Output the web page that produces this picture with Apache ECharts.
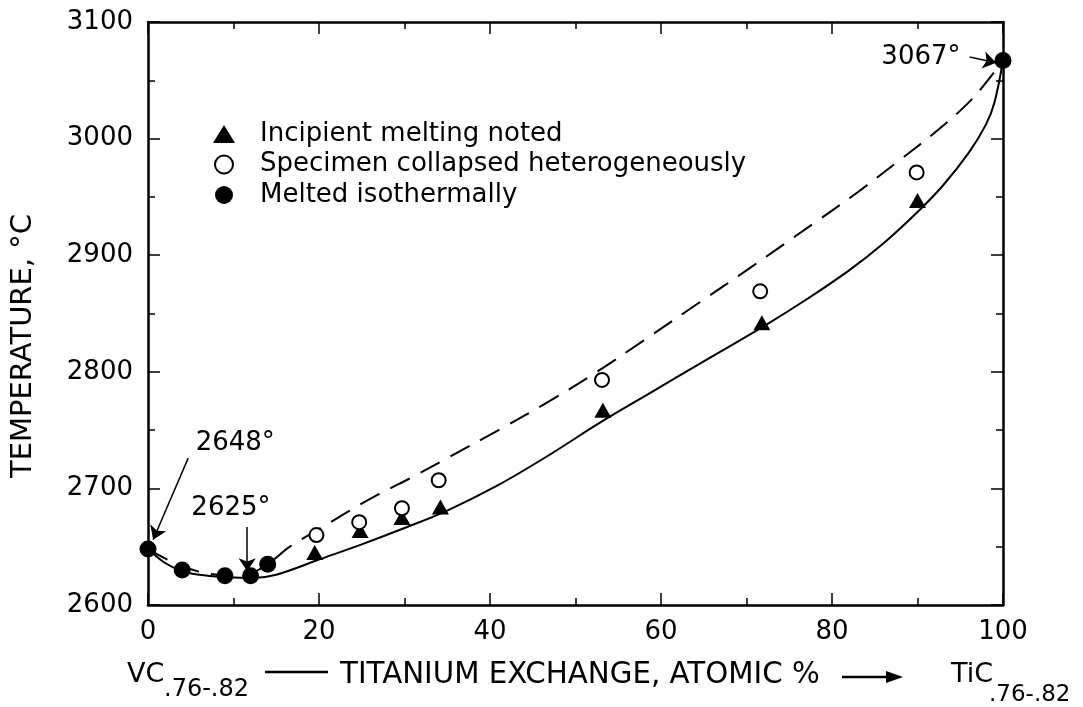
<!DOCTYPE html>
<html><head><meta charset="utf-8">
<script src="https://cdn.jsdelivr.net/npm/echarts@6/dist/echarts.min.js"></script>
<style>html,body{margin:0;padding:0;background:#fff}#c{width:1083px;height:707px}</style>
</head><body><div id="c"></div>
<script>
// ---- data ----
const xTickLabels = ['0', '20', '40', '60', '80', '100'];
const yTickLabels = ['2600', '2700', '2800', '2900', '3000', '3100'];

// Melted isothermally (filled circles)
const meltedX = [0, 4, 9, 12, 14, 100];
const meltedT = [2648, 2630, 2625, 2625, 2635, 3067];
// Incipient melting noted (filled triangles)
const incipientX = [19.5, 24.8, 29.7, 34.2, 53.2, 71.8, 90];
const incipientT = [2645, 2664, 2675, 2684, 2767, 2842, 2947];
// Specimen collapsed heterogeneously (open circles)
const collapsedX = [19.7, 24.7, 29.7, 34, 53.1, 71.6, 89.9];
const collapsedT = [2660, 2671, 2683, 2707, 2793, 2869, 2971];

// Solid curve
const solidX = [0, 2, 4, 6, 9, 12, 15, 20, 25, 30, 35, 41, 47, 53, 59, 65, 72, 77, 82, 86, 90, 93, 96, 98, 99, 100];
const solidT = [2648, 2636, 2629, 2626, 2624, 2623, 2626, 2639, 2652, 2666, 2681, 2703, 2729, 2757, 2783, 2809, 2839, 2862, 2887, 2910, 2937, 2960, 2988, 3012, 3031, 3067];
// Dashed curve
const dashedX = [0, 2, 4, 7, 10, 12, 14, 16.6, 20, 23.6, 27, 31, 34.5, 41, 47, 52.3, 58, 64.6, 70, 77.8, 83, 88, 92, 95, 97, 100];
const dashedT = [2648, 2640, 2633, 2627, 2625, 2627, 2635, 2650, 2665, 2681, 2695, 2710, 2724, 2750, 2775, 2799, 2827, 2860, 2887, 2927, 2954, 2982, 3005, 3024, 3039, 3067];

// Annotations (data coordinates)
const annoText = ['2648°', '2625°', '3067°'];
const annoTextPos = [[10.2, 2739], [9.7, 2683], [90.4, 3070]];
const annoArrowFrom = [[4.7, 2726], [11.6, 2667], [96.1, 3070]];
const annoArrowTo = [[0.6, 2656], [11.6, 2629], [99.2, 3065]];

const zip = (a, b) => a.map((v, i) => [v, b[i]]);
const FONT = 'DejaVu Sans';

const chart = echarts.init(document.getElementById('c'));
const axisCommon = {
  type: 'value', min: 0, max: 100, interval: 20,
  axisLine: { show: true, onZero: false, lineStyle: { color: '#000', width: 2.5 } },
  axisTick: { show: true, inside: true, length: 12, lineStyle: { color: '#000', width: 1.5 } },
  minorTick: { show: true, splitNumber: 2, length: 7, lineStyle: { color: '#000', width: 1.5 } },
  splitLine: { show: false }
};
chart.setOption({
  animation: false,
  backgroundColor: '#fff',
  textStyle: { fontFamily: FONT, color: '#000' },
  grid: { left: 148, right: 80, top: 22, bottom: 102, containLabel: false, outerBoundsMode: 'none' },
  legend: {
    orient: 'vertical', left: 213, top: 121, itemGap: 4.5, padding: 0,
    itemWidth: 22, itemHeight: 18,
    data: ['Incipient melting noted', 'Specimen collapsed heterogeneously', 'Melted isothermally'],
    textStyle: { fontFamily: FONT, fontSize: 26, lineHeight: 22, color: '#000', padding: [0, 0, 0, 20] }
  },
  xAxis: [
    Object.assign({}, axisCommon, {
      position: 'bottom',
      axisLabel: { show: true, margin: 14, fontSize: 26, fontFamily: FONT, color: '#000',
        formatter: v => xTickLabels[Math.round(v / 20)] }
    }),
    Object.assign({}, axisCommon, { position: 'top', axisLabel: { show: false } })
  ],
  yAxis: [
    Object.assign({}, axisCommon, {
      min: 2600, max: 3100, interval: 100, position: 'left',
      axisLabel: { show: true, margin: 15, fontSize: 26, fontFamily: FONT, color: '#000',
        formatter: v => yTickLabels[Math.round((v - 2600) / 100)] }
    }),
    Object.assign({}, axisCommon, { min: 2600, max: 3100, interval: 100, position: 'right', axisLabel: { show: false } })
  ],
  graphic: [
    { type: 'text', x: 23, y: 346, rotation: Math.PI / 2,
      style: { text: 'TEMPERATURE, °C', font: '29px "DejaVu Sans"', fill: '#000', align: 'center', verticalAlign: 'middle' } },
    { type: 'text', x: 127, y: 675, style: { text: 'VC', font: '27px "DejaVu Sans"', fill: '#000', verticalAlign: 'middle' } },
    { type: 'text', x: 164, y: 690, style: { text: '.76-.82', font: '24px "DejaVu Sans"', fill: '#000', verticalAlign: 'middle' } },
    { type: 'line', shape: { x1: 265, y1: 672, x2: 328, y2: 672 }, style: { stroke: '#000', lineWidth: 2.5 } },
    { type: 'text', x: 340, y: 675, style: { text: 'TITANIUM EXCHANGE, ATOMIC %', font: '29.3px "DejaVu Sans"', fill: '#000', verticalAlign: 'middle' } },
    { type: 'line', shape: { x1: 842, y1: 677, x2: 890, y2: 677 }, style: { stroke: '#000', lineWidth: 2.5 } },
    { type: 'polygon', shape: { points: [[886, 671], [903, 677], [886, 683]] }, style: { fill: '#000' } },
    { type: 'text', x: 951, y: 675, style: { text: 'TiC', font: '27px "DejaVu Sans"', fill: '#000', verticalAlign: 'middle' } },
    { type: 'text', x: 989, y: 695, style: { text: '.76-.82', font: '23px "DejaVu Sans"', fill: '#000', verticalAlign: 'middle' } }
  ],
  series: [
    { name: 'solid', type: 'line', data: zip(solidX, solidT), smooth: 0.35, symbol: 'none',
      lineStyle: { color: '#000', width: 2 }, z: 2, silent: true },
    { name: 'dashed', type: 'line', data: zip(dashedX, dashedT), smooth: 0.35, symbol: 'none',
      lineStyle: { color: '#000', width: 2, type: [22, 12] }, z: 2, silent: true },
    { name: 'Incipient melting noted', type: 'scatter', data: zip(incipientX, incipientT),
      symbol: 'triangle', symbolSize: [17, 15], itemStyle: { color: '#000', opacity: 1 }, z: 3 },
    { name: 'Specimen collapsed heterogeneously', type: 'scatter', data: zip(collapsedX, collapsedT),
      symbol: 'circle', symbolSize: 14, itemStyle: { color: '#fff', borderColor: '#000', borderWidth: 2, opacity: 1 }, z: 3 },
    { name: 'Melted isothermally', type: 'scatter', data: zip(meltedX, meltedT),
      symbol: 'circle', symbolSize: 17, itemStyle: { color: '#000', opacity: 1 }, z: 4,
      markPoint: {
        symbol: 'circle', symbolSize: 0, silent: true,
        label: { show: true, position: 'inside', fontSize: 26, fontFamily: FONT, color: '#000',
          formatter: p => p.name },
        data: annoText.map((t, i) => ({ name: t, coord: annoTextPos[i] }))
      },
      markLine: {
        silent: true, symbol: ['none', 'arrow'], symbolSize: 13,
        label: { show: false },
        lineStyle: { color: '#000', width: 1.5, type: 'solid', opacity: 1 },
        data: annoArrowFrom.map((f, i) => [{ coord: f }, { coord: annoArrowTo[i] }])
      }
    }
  ]
});
</script>
</body></html>
